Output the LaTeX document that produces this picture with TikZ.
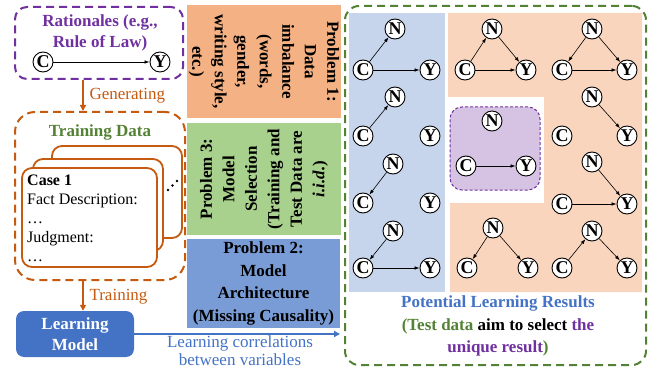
\documentclass[tikz,border=0pt]{standalone}
\usepackage{fontspec}
\setmainfont{Liberation Serif}
\usetikzlibrary{arrows.meta}
\definecolor{ratpurple}{HTML}{7030A0}
\definecolor{traorange}{HTML}{C55A11}
\definecolor{tragreen}{HTML}{548235}
\definecolor{lmblue}{HTML}{4472C4}
\definecolor{p1fill}{HTML}{F4B183}
\definecolor{p3fill}{HTML}{A9D18E}
\definecolor{p2fill}{RGB}{122,156,214}
\definecolor{bpanel}{HTML}{C6D4EC}
\definecolor{opanel}{HTML}{F9D5BE}
\definecolor{pubox}{HTML}{D6C2E2}
\begin{document}
\begin{tikzpicture}[x=1pt, y=-1pt,
	every node/.style={font=\fontsize{17}{22}\selectfont},
	box/.style={rectangle, inner sep=0pt},
	dashbox/.style={box, line width=2pt, dash pattern=on 8pt off 5pt},
	card/.style={box, draw=traorange, fill=white, line width=1.8pt, rounded corners=10pt},
	probbox/.style={box, align=center, font=\fontsize{17}{22.5}\selectfont\bfseries},
	var/.style={circle, draw, fill=white, inner sep=0pt, minimum size=20pt, line width=0.9pt, font=\fontsize{18}{18}\selectfont\bfseries},
	edge/.style={-{Latex[length=5pt,width=3.5pt]}, line width=0.6pt},
	orarrow/.style={-{Triangle[length=6pt,width=6pt]}, draw=traorange, line width=2pt},
	blarrow/.style={-{Triangle[length=6pt,width=6pt]}, draw=lmblue, line width=1.5pt}]
\useasboundingbox (0,0) rectangle (649,369);
% left column
\node[dashbox, draw=ratpurple, rounded corners=12pt, minimum width=168pt, minimum height=72pt] (rat) at (99,43) {};
\node[text=ratpurple, font=\fontsize{17}{21}\selectfont\bfseries, align=center] (rattext) at (100,33) {Rationales (e.g.,\\Rule of Law)};
\node[dashbox, draw=traorange, rounded corners=20pt, minimum width=170pt, minimum height=168pt] (train) at (100,196) {};
\node[text=tragreen, font=\fontsize{17}{22}\selectfont\bfseries] (traintext) at (100,132) {Training Data};
\foreach \n\x\y\w\h in {3/117/192/130/92, 2/98/205/130/92, 1/89.5/217.5/135/99}{
	\node[card, minimum width=\w pt, minimum height=\h pt] (card\n) at (\x,\y) {};
}
\node[anchor=north west, align=left, inner sep=0pt, font=\fontsize{16}{19}\selectfont] (casetext) at (27,175) {\textbf{Case 1}\\Fact Description:\\\dots\\Judgment:\\\dots};
\foreach \x\y in {168/190, 172.5/185.5, 177/181}{
	\fill (\x,\y) circle (1.3pt);
}
\node[box, fill=lmblue, rounded corners=8pt, minimum width=118pt, minimum height=46pt, text=white, align=center, font=\fontsize{17}{21}\selectfont\bfseries] (lm) at (75,334) {Learning\\Model};
% problems
\node[probbox, fill=p1fill, rotate=-90, minimum width=113pt, minimum height=154pt] (p1) at (264,61.5) {Problem 1:\\Data\\imbalance\\(words,\\gender,\\writing style,\\etc.)};
\node[probbox, fill=p3fill, rotate=90, minimum width=112pt, minimum height=154pt] (p3) at (264,179) {Problem 3:\\Model\\Selection\\(Training and\\Test Data are\\\textit{i.i.d.})};
\node[probbox, fill=p2fill, minimum width=153pt, minimum height=89pt] (p2) at (263.5,283.5) {Problem 2:\\Model\\Architecture\\(Missing Causality)};
% results
\node[dashbox, draw=tragreen, rounded corners=14pt, minimum width=301pt, minimum height=359pt] (res) at (495.5,185.5) {};
\node[box, fill=bpanel, minimum width=96pt, minimum height=279pt] (bpan) at (397,152.5) {};
\fill[opanel] (448,13) -- (642,13) -- (642,292) -- (450,292) -- (450,203) -- (544,203) -- (544,97) -- (448,97) -- cycle;
\node[box, fill=pubox, draw=ratpurple, line width=1pt, dash pattern=on 3pt off 2pt, rounded corners=12pt, minimum width=90pt, minimum height=83pt] (uniq) at (495,148.5) {};
\node[align=center, font=\fontsize{17}{22.5}\selectfont\bfseries] (restext) at (498,326) {\textcolor{lmblue}{Potential Learning Results}\\\textcolor{tragreen}{(Test data} aim to select \textcolor{ratpurple}{the}\\\textcolor{ratpurple}{unique result}\textcolor{tragreen}{)}};
% causal graphs
\foreach[count=\i] \x\y\n in {
	43/62/C
	,160/62/Y
	%
	,395/29/N
	,363/70/C
	,430/70/Y
	,395/97/N
	,363/136/C
	,430/136/Y
	,393/164/N
	,363/203/C
	,430/203/Y
	,393/231/N
	,363/268/C
	,430/268/Y
	%
	,492/29/N
	,465/70/C
	,526/70/Y
	,592/29/N
	,562/70/C
	,627/70/Y
	,592/97/N
	,562/136/C
	,627/136/Y
	,592/162/N
	,562/204/C
	,627/204/Y
	,493/228/N
	,467/268/C
	,528/268/Y
	,592/231/N
	,562/268/C
	,627/268/Y
	%
	,492/121/N
	,466/166/C
	,526/166/Y
}{
	\node[var](\i) at(\x,\y){\n};
}
\foreach \u\v in {%
	1/2%
	,4/3,4/5,7/6,9/10,12/13,13/14%
	,16/15,15/17,16/17,18/19,18/20,19/20%
	,21/23,24/26,25/26,27/28,27/29,31/30,30/32%
	,34/35%
}{
\draw[edge] (\u) -- (\v);
}
% arrows between stages
\draw[orarrow] ([xshift=-16pt]rat.south) -- ([xshift=-16pt]rat.south |- train.north);
\node[text=traorange, anchor=west] (gentext) at (86,96) {Generating};
\draw[orarrow] ([xshift=-17pt]train.south) -- ([xshift=-17pt]train.south |- lm.north);
\node[text=traorange, anchor=west] (tratext) at (86,297) {Training};
\draw[blarrow] (lm.east) -- ([xshift=-4pt]lm.east -| res.west);
\node[text=lmblue, align=center, font=\fontsize{17}{18}\selectfont] (corrtext) at (240,351) {Learning correlations\\between variables};
\end{tikzpicture}
\end{document}
